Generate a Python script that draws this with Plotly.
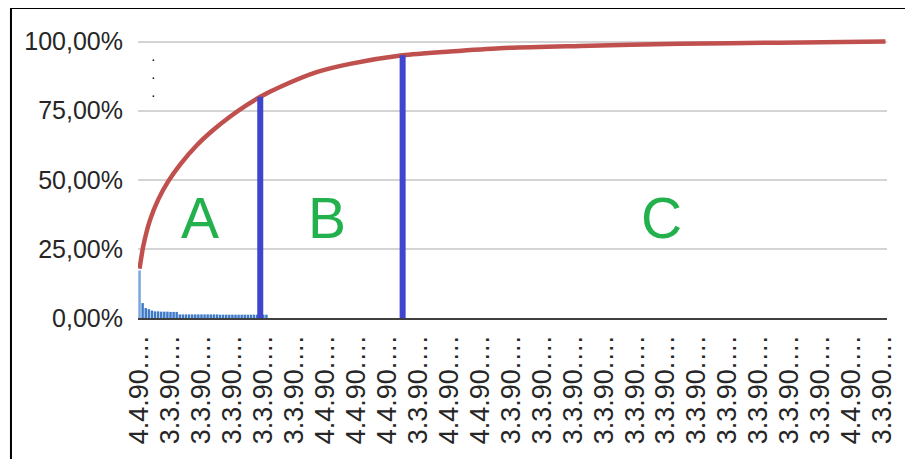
import plotly.graph_objects as go

# ---------------- data ----------------
n_items = 242

bar_items = [0, 1, 2, 3, 4, 5, 6, 7, 8, 9, 10, 11, 12, 13, 14, 15, 16, 17, 18, 19, 20,
             21, 22, 23, 24, 25, 26, 27, 28, 29, 30, 31, 32, 33, 34, 35, 36, 37, 38, 39, 40, 41]
bar_pct = [17.2, 5.4, 3.6, 3.2, 2.7, 2.4, 2.4, 2.3, 2.3, 2.3, 2.2, 2.2, 2.2,
           1.3, 1.3, 1.3, 1.3, 1.3, 1.3, 1.3, 1.3, 1.3, 1.3, 1.3, 1.3, 1.3,
           1.2, 1.2, 1.2, 1.2, 1.2, 1.2, 1.2, 1.2, 1.2, 1.2, 1.2, 1.2, 1.2, 1.2, 1.2, 1.2]

curve_items = [0, 1.2, 3.4, 6.1, 9.3, 13.1, 18.5, 23.8, 29.2, 34.6, 39, 45.9, 57.2, 68,
               85, 100.3, 116.5, 142.3, 174.6, 206.9, 241]
curve_pct = [17.8, 26.0, 35.5, 43.0, 49.5, 55.5, 62.5, 68.0, 72.8, 77.0, 80.0, 83.8, 88.9,
             91.9, 95.0, 96.4, 97.6, 98.4, 99.2, 99.6, 100.0]

boundary_items = [39, 85]
boundary_pct = [80.0, 95.0]

zone_labels = ["A", "B", "C"]
zone_label_items = [19.5, 60.5, 168.5]
zone_label_pct = [36.0, 36.0, 36.0]

tick_items = [0, 10, 20, 30, 40, 50, 60, 70, 80, 90, 100, 110, 120, 130, 140, 150, 160,
              170, 180, 190, 200, 210, 220, 230, 240]
tick_labels = ["4.4.90.…", "3.3.90.…", "3.3.90.…", "3.3.90.…", "3.3.90.…", "3.3.90.…",
               "4.4.90.…", "4.4.90.…", "4.4.90.…", "3.3.90.…", "4.4.90.…", "4.4.90.…",
               "3.3.90.…", "3.3.90.…", "3.3.90.…", "3.3.90.…", "3.3.90.…", "3.3.90.…",
               "3.3.90.…", "3.3.90.…", "3.3.90.…", "3.3.90.…", "3.3.90.…", "4.4.90.…",
               "3.3.90.…"]

y_tick_vals = [0, 25, 50, 75, 100]
y_tick_labels = ["0,00%", "25,00%", "50,00%", "75,00%", "100,00%"]

# ---------------- figure ----------------
fig = go.Figure()

bar_colors = ["#7aa5db"] + ["#3f7bc8"] * (len(bar_items) - 1)
fig.add_trace(go.Bar(x=bar_items, y=bar_pct, marker=dict(color=bar_colors, line=dict(width=0)),
                     showlegend=False))

fig.add_trace(go.Scatter(x=curve_items, y=curve_pct, mode="lines",
                         line=dict(color="#c0504d", width=4.5, shape="spline", smoothing=0.7),
                         showlegend=False))

bx, by = [], []
for it, p in zip(boundary_items, boundary_pct):
    bx += [it, it, None]
    by += [0, p, None]
fig.add_trace(go.Scatter(x=bx, y=by, mode="lines", line=dict(color="#3f45cc", width=6),
                         showlegend=False))

for lab, xi, yp in zip(zone_labels, zone_label_items, zone_label_pct):
    fig.add_annotation(x=xi, y=yp, text=lab, showarrow=False,
                       font=dict(family="Liberation Sans", size=57, color="#22b14c"),
                       xanchor="center", yanchor="middle")

# small dotted marks near the y axis
fig.add_annotation(x=4.44, y=87.05, text="·<br>·<br>·", showarrow=False,
                   font=dict(family="Liberation Sans", size=14, color="#000000"),
                   xanchor="center", yanchor="middle")

# outer frame (left and top edges)
fig.add_shape(type="line", xref="paper", yref="paper", x0=-0.1696, x1=-0.1696,
              y0=-0.6, y1=1.0993, line=dict(color="#000000", width=2))
fig.add_shape(type="line", xref="paper", yref="paper", x0=-0.1696, x1=1.05,
              y0=1.0993, y1=1.0993, line=dict(color="#000000", width=2))

# page body has an 8px margin: figure is 905x451 so that it fits the 913x459 window
fig.update_layout(
    width=905, height=451,
    margin=dict(l=130, r=26, t=28, b=141, autoexpand=False),
    paper_bgcolor="white", plot_bgcolor="white",
    bargap=0.2, showlegend=False,
    font=dict(family="Liberation Sans", color="#262626"),
)
fig.update_xaxes(
    range=[-0.5, n_items - 0.5], tickmode="array", tickvals=tick_items, ticktext=tick_labels,
    tickangle=-90, tickfont=dict(size=27, color="#262626", family="Liberation Sans"),
    showgrid=False, zeroline=False, showline=True, linecolor="#404040", linewidth=2,
    ticks="", ticklabelstandoff=4, automargin=False,
)
fig.update_yaxes(
    range=[0, 102], tickmode="array", tickvals=y_tick_vals, ticktext=y_tick_labels,
    tickfont=dict(size=25, color="#262626", family="Liberation Sans"),
    showgrid=True, gridcolor="#d4d4d4", gridwidth=2, zeroline=False, showline=False,
    ticks="", ticklabelstandoff=14, automargin=False,
)

fig.write_html("out.html")
